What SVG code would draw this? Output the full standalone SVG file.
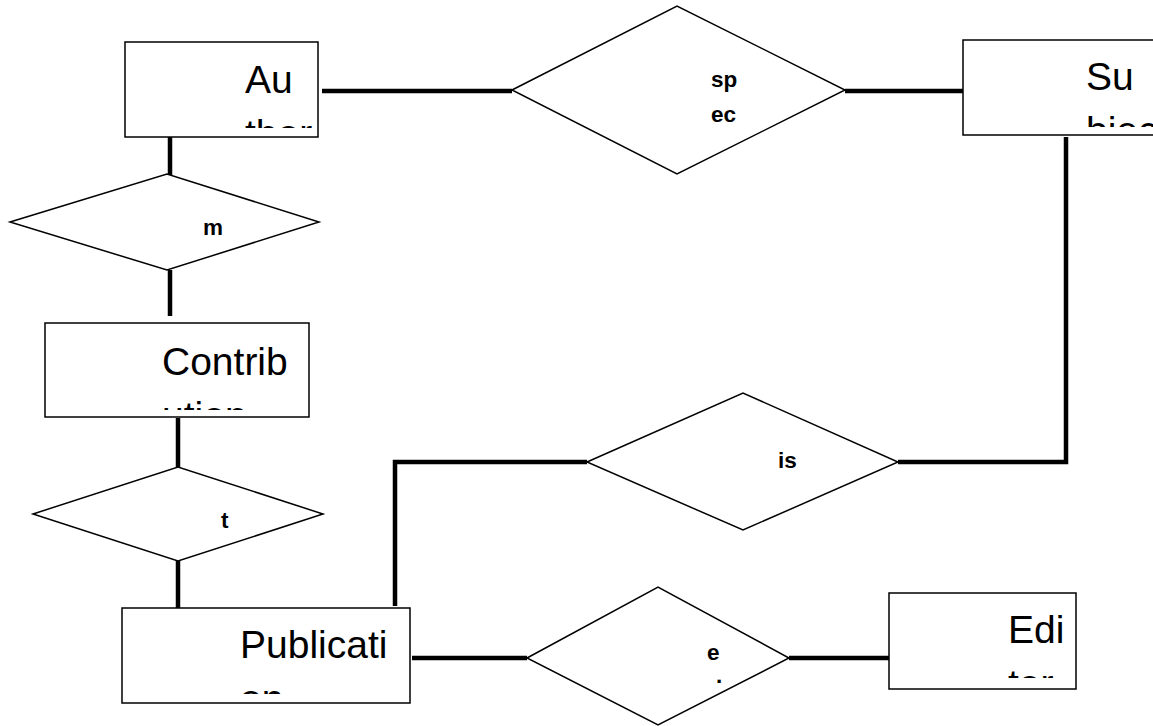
<svg xmlns="http://www.w3.org/2000/svg" width="1153" height="726" viewBox="0 0 1153 726">
<style>
.ent{fill:#fff;stroke:#000;stroke-width:1.5}
.rel{fill:#fff;stroke:#000;stroke-width:1.5}
.et{font-family:"Liberation Sans",Arial,sans-serif;font-size:39px;fill:#000}
.rt{font-family:"Liberation Sans",Arial,sans-serif;font-size:22.5px;font-weight:bold;fill:#000}
.con{fill:none;stroke:#000;stroke-width:4.5}
</style>
<defs>
<clipPath id="cAuthor"><rect x="126" y="43" width="191" height="85"/></clipPath>
<clipPath id="cSubject"><rect x="964" y="41" width="189" height="86"/></clipPath>
<clipPath id="cContribution"><rect x="46" y="324" width="262" height="86"/></clipPath>
<clipPath id="cPublication"><rect x="123" y="609" width="286" height="85"/></clipPath>
<clipPath id="cEditor"><rect x="890" y="594" width="185" height="84"/></clipPath>
</defs>
<rect width="1153" height="726" fill="#fff"/>
<g id="connectors">
<line class="con" x1="322" y1="91" x2="512" y2="91"/>
<line class="con" x1="845" y1="91" x2="965" y2="91"/>
<line class="con" x1="170" y1="137" x2="170" y2="175"/>
<line class="con" x1="170" y1="270" x2="170" y2="316"/>
<line class="con" x1="178" y1="418" x2="178" y2="467"/>
<line class="con" x1="178" y1="561" x2="178" y2="608"/>
<polyline class="con" points="1066,137 1066,462 898,462"/>
<polyline class="con" points="587,462 395,462 395,606"/>
<line class="con" x1="412" y1="658" x2="527" y2="658"/>
<line class="con" x1="789" y1="658" x2="889" y2="658"/>
</g>
<g id="author">
<rect class="ent" x="125" y="42" width="193" height="95"/>
<g clip-path="url(#cAuthor)"><text class="et" x="245" y="93">Au</text><text class="et" x="245" y="147">thor</text></g>
</g>
<g id="subject">
<rect class="ent" x="963" y="40" width="192" height="95"/>
<g clip-path="url(#cSubject)"><text class="et" x="1086" y="90">Su</text><text class="et" x="1086" y="144">bject</text></g>
</g>
<g id="contribution">
<rect class="ent" x="45" y="323" width="264" height="94"/>
<g clip-path="url(#cContribution)"><text class="et" x="162" y="375">Contrib</text><text class="et" x="162" y="429">ution</text></g>
</g>
<g id="publication">
<rect class="ent" x="122" y="608" width="288" height="95"/>
<g clip-path="url(#cPublication)"><text class="et" x="240" y="658">Publicati</text><text class="et" x="240" y="712">on</text></g>
</g>
<g id="editor">
<rect class="ent" x="889" y="593" width="187" height="96"/>
<g clip-path="url(#cEditor)"><text class="et" x="1008" y="643">Edi</text><text class="et" x="1008" y="697">tor</text></g>
</g>
<g id="spec">
<polygon class="rel" points="512,90 677,6 845,90 677,174"/>
<text class="rt" x="711" y="87">sp</text>
<text class="rt" x="711" y="122">ec</text>
</g>
<g id="m">
<polygon class="rel" points="10,222 167,174 319,222 167,270"/>
<text class="rt" x="203" y="235">m</text>
</g>
<g id="contains">
<polygon class="rel" points="33,514 178,467 323,514 178,561"/>
<text class="rt" x="221" y="528">t</text>
</g>
<g id="is">
<polygon class="rel" points="587,462 743,393 898,462 743,530"/>
<text class="rt" x="778" y="468">is</text>
</g>
<g id="edits">
<polygon class="rel" points="527,658 658,587 789,658 658,725"/>
<text class="rt" x="707" y="660">e</text>
<text class="rt" x="716" y="683">.</text>
</g>
</svg>
